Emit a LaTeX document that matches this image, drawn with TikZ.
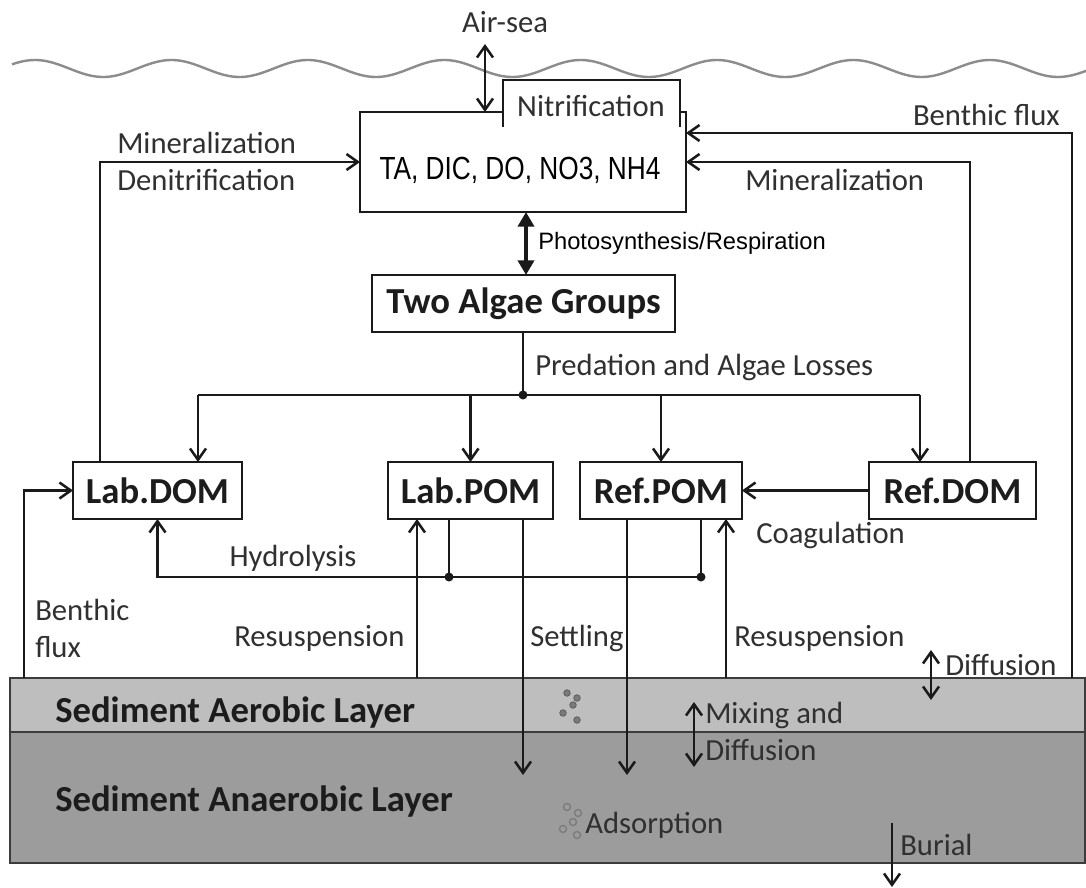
\documentclass[tikz,border=0pt]{standalone}
\usepackage{fontspec}
\setmainfont{Carlito}
\newfontfamily\arialf{Liberation Sans}
\usetikzlibrary{arrows.meta}
\definecolor{ln}{HTML}{1A1A1A}
\definecolor{tx}{HTML}{303030}
\definecolor{bx}{HTML}{1C1C1C}
\definecolor{wavec}{HTML}{8C8C8C}
\definecolor{aerc}{HTML}{BEBEBE}
\definecolor{anac}{HTML}{9C9C9C}
\definecolor{partc}{HTML}{7A7A7A}
\begin{document}
\begin{tikzpicture}[x=0.75pt,y=-0.75pt,
  box/.style={draw=ln, line width=1.8pt, fill=white, inner sep=0pt, outer sep=0pt,
    font=\bfseries\fontsize{27.5}{30}\selectfont, text=bx},
  lbl/.style={text=tx, font=\fontsize{23}{26}\selectfont, inner sep=0pt},
  blbl/.style={text=bx, font=\bfseries\fontsize{27.5}{30}\selectfont, inner sep=0pt},
  con/.style={draw=ln, line width=1.9pt},
  arr/.style={con, -{Straight Barb[length=8.5pt,width=12pt]}},
  darr/.style={con, {Straight Barb[length=8.5pt,width=12pt]}-{Straight Barb[length=8.5pt,width=12pt]}},
  layer/.style={draw=ln!85, line width=2.2pt, minimum width=806.25pt, inner sep=0pt, outer sep=0pt},
  dot/.style={fill=ln},
  part/.style={fill=partc, draw=partc!70!black, line width=0.5pt},
  opart/.style={draw=partc, line width=1pt}]
\useasboundingbox (0,0) rectangle (1086,888);
\fill[white] (0,0) rectangle (1086,888);

% sea surface
\draw[wavec, line width=1.8pt] plot[domain=12:1086, samples=300] (\x, {68.5-8.5*cos(((\x-35)/136.4)*360)});

% sediment layers
\node[layer, fill=anac, minimum height=98.25pt] (ana) at (547.5,797.5) {};
\node[layer, fill=aerc, minimum height=40.5pt] (aer) at (547.5,705) {};
\node[blbl, anchor=west] (aertxt) at (55,713) {Sediment Aerobic Layer};
\node[blbl, anchor=west] (anatxt) at (55,802) {Sediment Anaerobic Layer};

% main box and nitrification tab
\node[box, minimum width=244.5pt, minimum height=75pt] (main) at (523,162) {};
\fill[white] (503,80) rectangle (680,127);
\draw[con, line width=1.6pt] (503,127) -- (503,80) -- (680,80) -- (680,127);
\node[lbl] (nitr) at (591,106) {Nitrification};
\node[inner sep=0pt, text=black, font=\arialf\fontsize{24}{28}\selectfont] (maintxt) at (520,170) {\scalebox{0.82}[1]{TA, DIC, DO, NO3, NH4}};

% other boxes
\node[box, minimum width=227.25pt, minimum height=42.75pt] (algae) at (523.5,303.5) {Two Algae Groups};
\node[box, minimum width=126.75pt, minimum height=42.75pt] (labdom) at (157.5,490.5) {Lab.DOM};
\node[box, minimum width=123.75pt, minimum height=42.75pt] (labpom) at (470.5,490.5) {Lab.POM};
\node[box, minimum width=121.5pt, minimum height=42.75pt] (refpom) at (661,490.5) {Ref.POM};
\node[box, minimum width=125.25pt, minimum height=42.75pt] (refdom) at (952.5,490.5) {Ref.DOM};

% air-sea
\coordinate (airsea) at (485,44);
\draw[darr] (airsea) -- (main.north -| airsea);
\node[lbl] (airtxt) at (505,22) {Air-sea};

% left loop: mineralization / denitrification
\coordinate (lx) at (100,0);
\draw[arr] (labdom.north -| lx) |- (main.west);
\node[lbl, anchor=west] (minl) at (117,143) {Mineralization};
\node[lbl, anchor=west] (denl) at (117,180) {Denitrification};

% right loop: mineralization
\coordinate (rx) at (970,0);
\draw[arr] (refdom.north -| rx) |- (main.east);
\node[lbl, anchor=west] (minr) at (745,180) {Mineralization};

% benthic flux right
\coordinate (bx) at (1072,0);
\draw[arr] (aer.north -| bx) |- ([yshift=21.75pt]main.east);
\node[lbl, anchor=east] (bfr) at (1060,115) {Benthic flux};

% photosynthesis
\coordinate (px) at (526,0);
\draw[draw=ln, line width=3.5pt, {Triangle[length=11pt,width=12pt]}-{Triangle[length=11pt,width=12pt]}] (main.south -| px) -- (algae.north -| px);
\node[anchor=west, inner sep=0pt, text=black, font=\arialf\fontsize{17.8}{20}\selectfont] (phot) at (538,243) {Photosynthesis/Respiration};

% predation
\coordinate (pj) at (523,395);
\coordinate (pl) at (198,395);
\coordinate (pr) at (920,395);
\draw[con] (algae.south -| pj) -- (pj);
\draw[con] (pl) -- (pr);
\fill[dot] (pj) circle (4.5);
\draw[arr] (pl) -- (labdom.north -| pl);
\draw[arr] (labpom.north |- pj) -- (labpom.north);
\draw[arr] (refpom.north |- pj) -- (refpom.north);
\draw[arr] (pr) -- (refdom.north -| pr);
\node[lbl, anchor=west] (pred) at (535,367) {Predation and Algae Losses};

% coagulation
\draw[arr] (refdom.west) -- (refpom.east);
\node[lbl, anchor=west] (coag) at (756,535) {Coagulation};

% benthic flux left
\coordinate (blx) at (24,0);
\draw[arr] (aer.north -| blx) |- (labdom.west);
\node[lbl, anchor=west] (bfl1) at (35,610) {Benthic};
\node[lbl, anchor=west] (bfl2) at (35,647) {flux};

% hydrolysis
\coordinate (h1) at (449,577);
\coordinate (h2) at (701,577);
\draw[con] (labpom.south -| h1) -- (h1);
\draw[arr] (refpom.south -| h2) -- (h2) -| (labdom.south);
\fill[dot] (h1) circle (4.5);
\fill[dot] (h2) circle (4.5);
\node[lbl] (hyd) at (293,558) {Hydrolysis};

% resuspension
\coordinate (rs1) at (417,0);
\coordinate (rs2) at (726,0);
\draw[arr] (aer.north -| rs1) -- (labpom.south -| rs1);
\draw[arr] (aer.north -| rs2) -- (refpom.south -| rs2);
\node[lbl, anchor=west] (res1) at (234,638) {Resuspension};
\node[lbl, anchor=west] (res2) at (734,638) {Resuspension};

% settling
\coordinate (s1) at (523,775);
\coordinate (s2) at (627,775);
\draw[arr] (labpom.south -| s1) -- (s1);
\draw[arr] (refpom.south -| s2) -- (s2);
\node[lbl, anchor=west] (sett) at (530,638) {Settling};

% diffusion
\coordinate (d1) at (931,650);
\coordinate (d2) at (931,700);
\draw[darr] (d1) -- (d2);
\node[lbl, anchor=west] (diff) at (945,665) {Diffusion};

% mixing
\coordinate (m1) at (694,702);
\coordinate (m2) at (694,767);
\draw[darr] (m1) -- (m2);
\node[lbl, anchor=west] (mix1) at (705,715) {Mixing and};
\node[lbl, anchor=west] (mix2) at (705,750) {Diffusion};

% burial
\coordinate (b1) at (892,823);
\coordinate (b2) at (892,887);
\draw[arr] (b1) -- (b2);
\node[lbl, anchor=west] (bur) at (900,845) {Burial};

% particles
\foreach \px/\py in {567/693, 577/698, 573/705, 563/713, 577/720}
  \filldraw[part] (\px,\py) circle (3.3);
\foreach \px/\py in {567/807, 578/813, 573/822, 563/829, 577/835}
  \draw[opart] (\px,\py) circle (3.5);
\node[lbl, anchor=west] (ads) at (585,825) {Adsorption};
\end{tikzpicture}
\end{document}
